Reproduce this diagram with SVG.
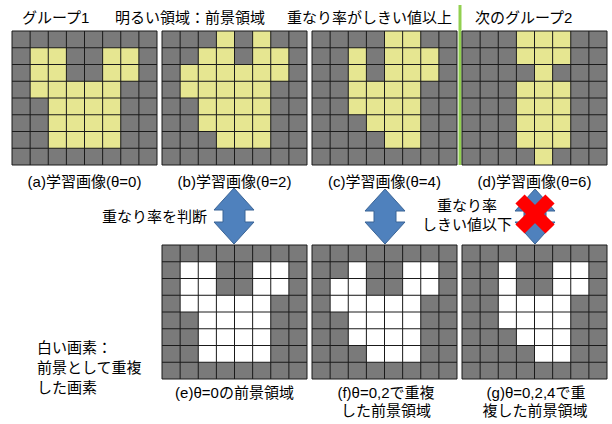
<svg xmlns="http://www.w3.org/2000/svg" xmlns:xlink="http://www.w3.org/1999/xlink" width="612" height="424" viewBox="0 0 612 424">
  <style>
    text { font-family: "Liberation Sans", "Noto Sans CJK JP", sans-serif; font-size: 15px; fill: #000; }
    .mid { text-anchor: middle; }
    .bg { fill: #7a7a7a; }
    .fg { fill: #e6e691; }
    .wh { fill: #ffffff; }
    .gl { fill: none; stroke: #1a1a1a; stroke-width: 1; }
    .arrow { fill: #4f81bd; stroke: #3a6496; stroke-width: 1; }
    .cross { stroke: #ff0000; stroke-width: 13; fill: none; }
  </style>
  <defs>
    <rect id="base" class="bg" x="0" y="0" width="145" height="134"/>
    <path id="lines" class="gl" d="M0,0H145V134H0Z M18.125,0V134 M36.25,0V134 M54.375,0V134 M72.5,0V134 M90.625,0V134 M108.75,0V134 M126.875,0V134 M0,16.75H145 M0,33.5H145 M0,50.25H145 M0,67H145 M0,83.75H145 M0,100.5H145 M0,117.25H145"/>
  </defs>

  <g id="headings">
    <text x="22" y="23">グループ1</text>
    <text x="115" y="23">明るい領域：前景領域</text>
    <text x="287" y="23">重なり率がしきい値以上</text>
    <text x="475" y="23">次のグループ2</text>
  </g>
  <line id="group-divider" x1="460" y1="5" x2="460" y2="165" stroke="#92d050" stroke-width="3"/>

  <g id="grid-a" transform="translate(12,31)">
    <use xlink:href="#base"/>
    <g class="fg">
      <rect x="18.125" y="16.75" width="36.25" height="33.5"/>
      <rect x="90.625" y="16.75" width="36.25" height="33.5"/>
      <rect x="18.125" y="50.25" width="90.625" height="16.75"/>
      <rect x="36.25" y="67" width="72.5" height="50.25"/>
    </g>
    <use xlink:href="#lines"/>
    <text class="mid" x="72.5" y="156">(a)学習画像(θ=0)</text>
  </g>

  <g id="grid-b" transform="translate(162,31)">
    <use xlink:href="#base"/>
    <g class="fg">
      <rect x="54.375" y="0" width="18.125" height="16.75"/>
      <rect x="90.625" y="0" width="18.125" height="16.75"/>
      <rect x="36.25" y="16.75" width="36.25" height="16.75"/>
      <rect x="90.625" y="16.75" width="36.25" height="16.75"/>
      <rect x="18.125" y="33.5" width="108.75" height="16.75"/>
      <rect x="18.125" y="50.25" width="90.625" height="16.75"/>
      <rect x="36.25" y="67" width="72.5" height="33.5"/>
      <rect x="54.375" y="100.5" width="54.375" height="16.75"/>
    </g>
    <use xlink:href="#lines"/>
    <text class="mid" x="72.5" y="156">(b)学習画像(θ=2)</text>
  </g>

  <g id="grid-c" transform="translate(312,31)">
    <use xlink:href="#base"/>
    <g class="fg">
      <rect x="72.5" y="0" width="36.25" height="16.75"/>
      <rect x="36.25" y="16.75" width="18.125" height="33.5"/>
      <rect x="72.5" y="16.75" width="54.375" height="33.5"/>
      <rect x="36.25" y="50.25" width="72.5" height="33.5"/>
      <rect x="54.375" y="83.75" width="54.375" height="16.75"/>
      <rect x="72.5" y="100.5" width="36.25" height="16.75"/>
    </g>
    <use xlink:href="#lines"/>
    <text class="mid" x="72.5" y="156">(c)学習画像(θ=4)</text>
  </g>

  <g id="grid-d" transform="translate(462,31)">
    <use xlink:href="#base"/>
    <g class="fg">
      <rect x="54.375" y="0" width="54.375" height="33.5"/>
      <rect x="72.5" y="33.5" width="18.125" height="16.75"/>
      <rect x="54.375" y="50.25" width="54.375" height="67"/>
      <rect x="72.5" y="117.25" width="18.125" height="16.75"/>
    </g>
    <use xlink:href="#lines"/>
    <text class="mid" x="72.5" y="156">(d)学習画像(θ=6)</text>
  </g>

  <g id="grid-e" transform="translate(162,245)">
    <use xlink:href="#base"/>
    <g class="wh">
      <rect x="18.125" y="16.75" width="36.25" height="33.5"/>
      <rect x="90.625" y="16.75" width="36.25" height="33.5"/>
      <rect x="18.125" y="50.25" width="90.625" height="16.75"/>
      <rect x="36.25" y="67" width="72.5" height="50.25"/>
    </g>
    <use xlink:href="#lines"/>
    <text class="mid" x="72.5" y="153">(e)θ=0の前景領域</text>
  </g>

  <g id="grid-f" transform="translate(312,245)">
    <use xlink:href="#base"/>
    <g class="wh">
      <rect x="36.25" y="16.75" width="18.125" height="16.75"/>
      <rect x="90.625" y="16.75" width="36.25" height="33.5"/>
      <rect x="18.125" y="33.5" width="36.25" height="16.75"/>
      <rect x="18.125" y="50.25" width="90.625" height="16.75"/>
      <rect x="36.25" y="67" width="72.5" height="33.5"/>
      <rect x="54.375" y="100.5" width="54.375" height="16.75"/>
    </g>
    <use xlink:href="#lines"/>
    <text class="mid" x="74" y="153">(f)θ=0,2で重複</text>
    <text class="mid" x="74" y="171">した前景領域</text>
  </g>

  <g id="grid-g" transform="translate(462,245)">
    <use xlink:href="#base"/>
    <g class="wh">
      <rect x="36.25" y="16.75" width="18.125" height="33.5"/>
      <rect x="90.625" y="16.75" width="36.25" height="33.5"/>
      <rect x="36.25" y="50.25" width="72.5" height="33.5"/>
      <rect x="54.375" y="83.75" width="54.375" height="16.75"/>
      <rect x="72.5" y="100.5" width="36.25" height="16.75"/>
    </g>
    <use xlink:href="#lines"/>
    <text class="mid" x="74" y="153">(g)θ=0,2,4で重</text>
    <text class="mid" x="73" y="171">複した前景領域</text>
  </g>

  <g id="legend">
    <text x="37" y="353">白い画素：</text>
    <text x="37" y="373">前景として重複</text>
    <text x="37" y="393">した画素</text>
  </g>

  <g id="connectors">
    <path class="arrow" d="M234,188 L254,210 L245,210 L245,222 L254,222 L234,244 L214,222 L223,222 L223,210 L214,210 Z"/>
    <path class="arrow" d="M385,189 L405,211 L396,211 L396,222 L405,222 L385,244 L365,222 L374,222 L374,211 L365,211 Z"/>
    <path class="arrow" d="M535,189 L555,211 L546,211 L546,222 L555,222 L535,244 L515,222 L524,222 L524,211 L515,211 Z"/>
    <path class="cross" d="M520,199 L550,229 M550,199 L520,229"/>
    <text x="102" y="222">重なり率を判断</text>
    <text class="mid" x="467" y="211">重なり率</text>
    <text class="mid" x="467" y="230">しきい値以下</text>
  </g>
</svg>
